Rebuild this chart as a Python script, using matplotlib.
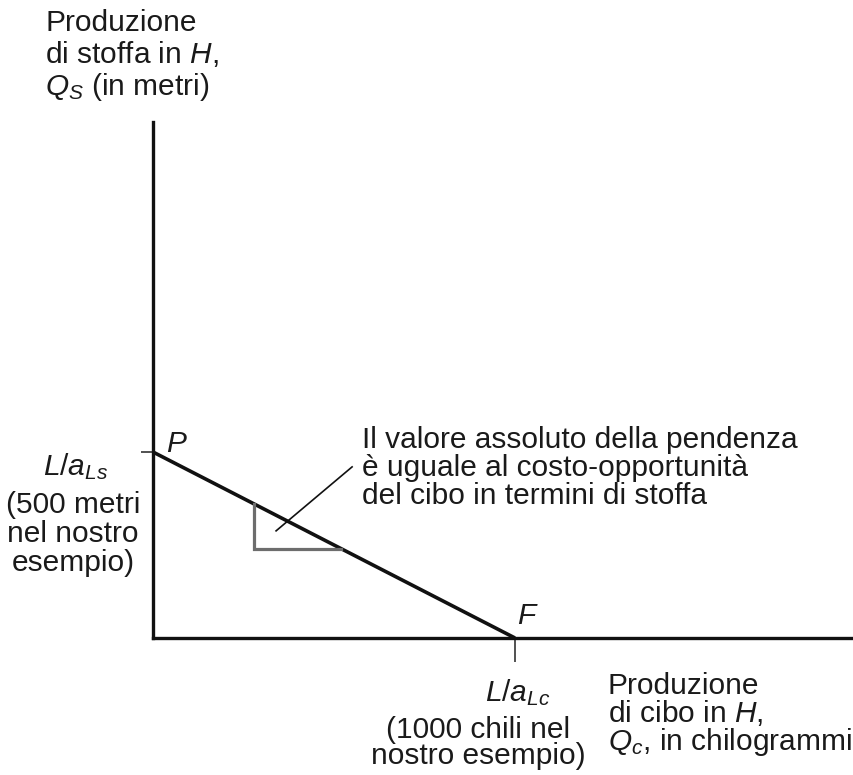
import matplotlib
matplotlib.use("Agg")
import matplotlib.pyplot as plt

plt.rcParams['font.family'] = ['Liberation Sans', 'DejaVu Sans']
plt.rcParams['mathtext.fontset'] = 'custom'
plt.rcParams['mathtext.rm'] = 'Liberation Sans'
plt.rcParams['mathtext.it'] = 'Liberation Sans:italic'

# data (kg of food, metres of cloth)
cibo_max = 1000     # L/a_Lc
stoffa_max = 500    # L/a_Ls
ppf_x = [0, cibo_max]
ppf_y = [stoffa_max, 0]
tri_x = [280, 280, 520]
tri_y = [360, 240, 240]
leader_x = [340, 550]
leader_y = [288, 460]

W, H = 854, 775
fig = plt.figure(figsize=(W / 100, H / 100), dpi=100)


def px(x, y):
    return x / W, 1 - y / H


# axes box in pixels
x0, y0, x1, y1 = 153, 122, 854, 638
ax = fig.add_axes([x0 / W, 1 - y1 / H, (x1 - x0) / W, (y1 - y0) / H])
xmax = (x1 - x0) / ((515 - 153) / cibo_max)
ymax = (y1 - y0) / ((638 - 452) / stoffa_max)
ax.set_xlim(0, xmax)
ax.set_ylim(0, ymax)
for s in ['top', 'right']:
    ax.spines[s].set_visible(False)
for s in ['left', 'bottom']:
    ax.spines[s].set_linewidth(2.4)
    ax.spines[s].set_color('#111111')
ax.set_xticks([cibo_max])
ax.set_yticks([stoffa_max])
ax.set_xticklabels([])
ax.set_yticklabels([])
ax.tick_params(axis='x', length=17, width=1.2, colors='#333333', direction='out')
ax.tick_params(axis='y', length=9, width=1.2, colors='#333333', direction='out')

ax.plot(ppf_x, ppf_y, color='#111111', lw=2.6, solid_capstyle='butt', clip_on=False)
ax.plot(tri_x, tri_y, color='#6d6d6d', lw=2.3, solid_joinstyle='miter')
ax.plot(leader_x, leader_y, color='#111111', lw=1.2)

fs = 21.5
col = '#1a1a1a'
fig.text(*px(166, 444), '$P$', fontsize=fs, ha='left', va='center', color=col)
fig.text(*px(517, 616), '$F$', fontsize=fs, ha='left', va='center', color=col)
fig.text(*px(362, 468), "Il valore assoluto della pendenza\nè uguale al costo-opportunità\ndel cibo in termini di stoffa",
         fontsize=fs, ha='left', va='center', linespacing=1.02, color=col)

fig.text(*px(45, 56), "Produzione\ndi stoffa in $H$,\n$Q_S$ (in metri)", fontsize=fs,
         ha='left', va='center', linespacing=1.1, color=col)
fig.text(*px(76, 467), "$L/a_{Ls}$", fontsize=fs, ha='center', va='center', color=col)
fig.text(*px(73, 534), "(500 metri\nnel nostro\nesempio)", fontsize=fs, ha='center', va='center',
         linespacing=1.06, color=col)
fig.text(*px(518, 693), "$L/a_{Lc}$", fontsize=fs, ha='center', va='center', color=col)
fig.text(*px(478, 743), "(1000 chili nel\nnostro esempio)", fontsize=fs, ha='center', va='center',
         linespacing=0.92, color=col)
fig.text(*px(608, 715), "Produzione\ndi cibo in $H$,\n$Q_c$, in chilogrammi", fontsize=fs,
         ha='left', va='center', linespacing=0.92, color=col)

fig.savefig('out.png', dpi=100)
